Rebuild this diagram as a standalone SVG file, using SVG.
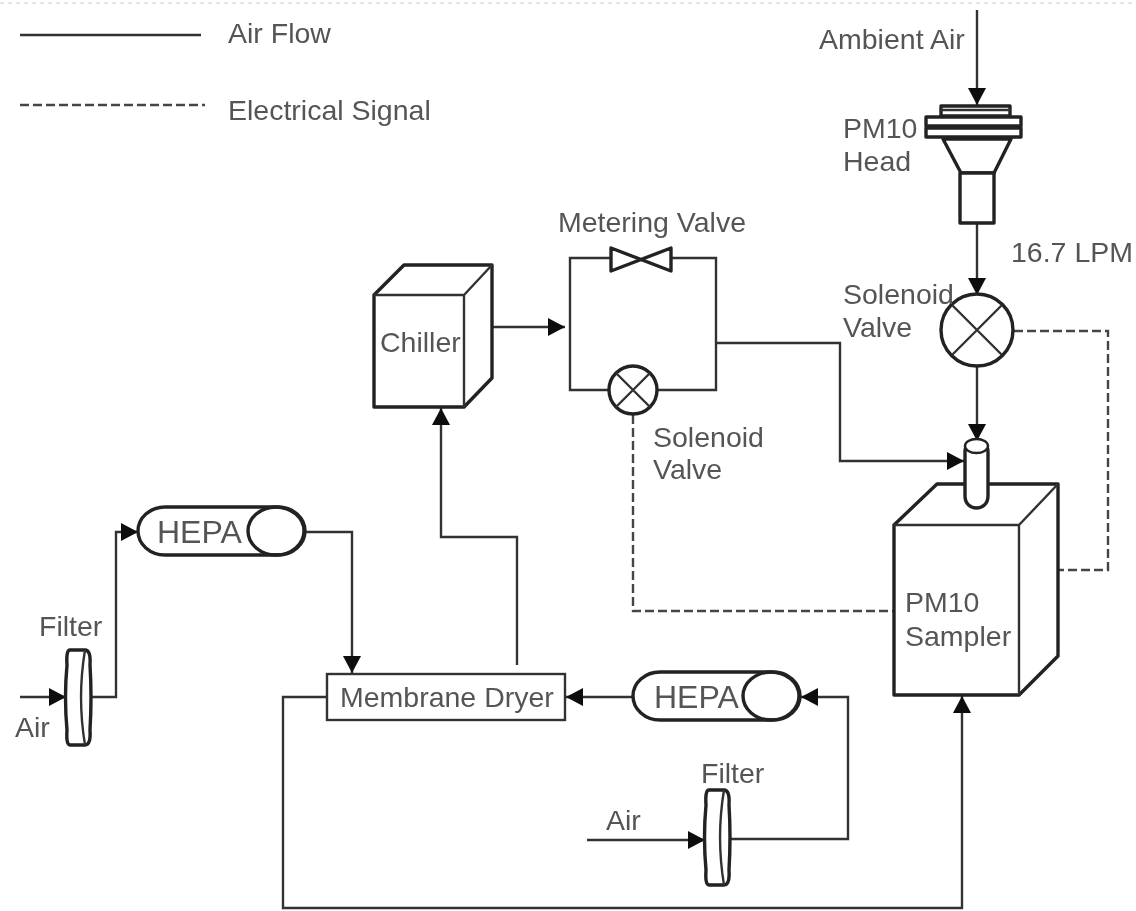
<svg xmlns="http://www.w3.org/2000/svg" width="1136" height="911" viewBox="0 0 1136 911">
<defs>
<marker id="arrow" markerUnits="userSpaceOnUse" markerWidth="20" markerHeight="20" refX="18" refY="10" orient="auto"><path d="M1 1L18 10L1 19Z" fill="#111"/></marker>
<filter id="soft" x="-2%" y="-2%" width="104%" height="104%"><feGaussianBlur stdDeviation="0.6"/></filter>
</defs>
<style>
text{font-family:"Liberation Sans",Arial,sans-serif;font-size:28.500px;fill:#555}
.hepa{font-size:32px}
.ln{fill:none;stroke:#333;stroke-width:2.4}
.flow{fill:none;stroke:#333;stroke-width:2.4;marker-end:url(#arrow)}
.dash{fill:none;stroke:#444;stroke-width:2.4;stroke-dasharray:9 4}
.thk{fill:#fff;stroke:#222;stroke-width:3.4;stroke-linejoin:round}
.thn{fill:none;stroke:#333;stroke-width:2.4}
</style>
<rect width="1136" height="911" fill="#fff"/>
<g filter="url(#soft)">
<path d="M0 3H1136" stroke="#ddd" stroke-width="1.5" stroke-dasharray="4 4" fill="none"/>
<g id="legend">
<path class="ln" d="M20 35H201"/><path class="dash" d="M20 105H205"/>
<text x="228" y="43">Air Flow</text><text x="228" y="120">Electrical Signal</text>
</g>
<g id="connectors">
<path class="flow" d="M977 10V105"/>
<path class="flow" d="M977 224V295"/>
<path class="flow" d="M977 367V441"/>
<path class="dash" d="M1014 331H1108V570H1059"/>
<path class="flow" d="M493 327H565"/>
<path class="ln" d="M610 258H570V390H609M658 390H716V258H671"/>
<path class="flow" d="M716 343H840V461H964"/>
<path class="dash" d="M633 415V611H894"/>
<path class="flow" d="M517 665V537H441V408"/>
<path class="flow" d="M90 697H116V532H138"/>
<path class="flow" d="M20 697H66"/>
<path class="flow" d="M305 532H352V673"/>
<path class="flow" d="M633 697H566"/>
<path class="flow" d="M728 839H848V697H801"/>
<path class="flow" d="M587 840H705"/>
<path class="flow" d="M327 697H283V908H962V696"/>
</g>
<g id="pm10-head">
<rect class="thk" x="941" y="106" width="69" height="10" stroke-width="2.6"/>
<path class="thn" d="M941 110H1010"/>
<rect class="thk" x="926" y="117" width="95" height="9" stroke-width="2.6"/>
<rect class="thk" x="926" y="128" width="95" height="9" stroke-width="2.6"/>
<path class="thk" d="M943 139H1011L994 173H961Z" stroke-width="2.6"/>
<rect class="thk" x="960" y="173" width="34" height="50" stroke-width="2.6"/>
<text x="843" y="138">PM10</text><text x="843" y="171">Head</text>
</g>
<g id="ambient"><text x="819" y="49">Ambient Air</text></g>
<g id="lpm"><text x="1011" y="262">16.7 LPM</text></g>
<g id="solenoid-1">
<circle class="thk" cx="977" cy="330" r="36"/>
<path class="thn" d="M952 305L1002 355M1002 305L952 355"/>
<text x="843" y="304">Solenoid</text><text x="843" y="337">Valve</text>
</g>
<g id="sampler">
<path class="thk" d="M894 525L937 484H1058V656L1019 695H894Z"/>
<path class="thn" d="M894 525H1019V695M1019 525L1058 484"/>
<path class="thk" d="M965 452V496C965 512 988 512 988 496V452C988 436 965 436 965 452Z"/>
<ellipse cx="976.500" cy="446" rx="11.500" ry="7" fill="#fff" stroke="#222" stroke-width="2.400"/>
<text x="905" y="612">PM10</text><text x="905" y="646">Sampler</text>
</g>
<g id="chiller">
<path class="thk" d="M374 295L404 265H492V378L464 407H374Z"/>
<path class="thn" d="M374 295H464V407M464 295L492 265"/>
<text x="380" y="352">Chiller</text>
</g>
<g id="metering-valve">
<path class="thk" d="M611 248V271L671 248V271Z" stroke-width="3"/>
<text x="558" y="232">Metering Valve</text>
</g>
<g id="solenoid-2">
<circle class="thk" cx="633" cy="390" r="24"/>
<path class="thn" d="M616 373L650 407M650 373L616 407"/>
<text x="653" y="447">Solenoid</text><text x="653" y="479">Valve</text>
</g>
<g id="hepa-1">
<rect class="thk" x="138" y="507" width="167" height="48" rx="27" ry="24"/>
<ellipse class="thk" cx="276" cy="531" rx="28" ry="24" style="fill:none"/>
<text class="hepa" x="157" y="543">HEPA</text>
</g>
<g id="hepa-2">
<rect class="thk" x="633" y="672" width="167" height="48" rx="27" ry="24"/>
<ellipse class="thk" cx="771" cy="696" rx="28" ry="24" style="fill:none"/>
<text class="hepa" x="654" y="708">HEPA</text>
</g>
<g id="filter-1">
<path class="thk" d="M70 650H85Q91 650 90 665Q92 697 90 730Q91 745 85 745H70Q66 745 67 730Q64 697 67 665Q66 650 70 650Z"/>
<path class="thn" d="M85 650C80 680 80 715 85 745"/>
<text x="39" y="636">Filter</text><text x="15" y="737">Air</text>
</g>
<g id="filter-2">
<path class="thk" d="M709 790H724Q730 790 729 805Q731 837 729 870Q730 885 724 885H709Q705 885 706 870Q703 837 706 805Q705 790 709 790Z"/>
<path class="thn" d="M724 790C719 820 719 855 724 885"/>
<text x="701" y="783">Filter</text><text x="606" y="830">Air</text>
</g>
<g id="membrane-dryer">
<rect x="327" y="674" width="238" height="46" fill="#fff" stroke="#333" stroke-width="2.4"/>
<text x="340" y="707">Membrane Dryer</text>
</g>
</g>
</svg>
